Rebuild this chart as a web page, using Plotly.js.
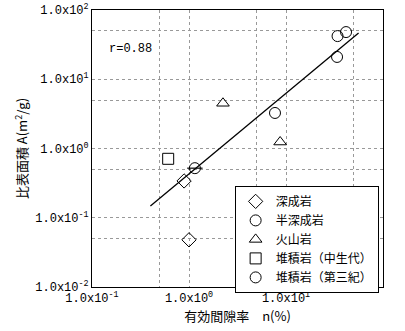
<!DOCTYPE html>
<html><head><meta charset="utf-8">
<script src="https://cdn.plot.ly/plotly-3.0.1.min.js"></script>
<style>html,body{margin:0;padding:0;background:#fff}#c{width:405px;height:331px}</style>
</head><body><div id="c"></div>
<script>
// 深成岩 (diamond)
const plutonicX = [0.89, 1.0];
const plutonicY = [0.34, 0.048];
// 半深成岩 (circle with bar)
const hypabyssalX = [1.15];
const hypabyssalY = [0.52];
// 火山岩 (triangle)
const volcanicX = [2.24, 8.7];
const volcanicY = [4.5, 1.24];
// 堆積岩（中生代） (square)
const mesozoicX = [0.61];
const mesozoicY = [0.71];
// 堆積岩（第三紀） (circle)
const tertiaryX = [7.7, 34, 41.6, 33.6];
const tertiaryY = [3.26, 42, 48, 21];
// regression line
const fitX = [0.4, 56];
const fitY = [0.148, 46.5];

const xTickVals = [0.1, 0.5, 1, 5, 10, 50, 100];
const xTickText = ['1.0x10<sup>-1</sup>', '', '1.0x10<sup>0</sup>', '', '1.0x10<sup>1</sup>', '', '1.0x10<sup>2</sup>'];
const yTickVals = [0.01, 0.05, 0.1, 0.5, 1, 5, 10, 50, 100];
const yTickText = ['1.0x10<sup>-2</sup>', '', '1.0x10<sup>-1</sup>', '', '1.0x10<sup>0</sup>', '', '1.0x10<sup>1</sup>', '', '1.0x10<sup>2</sup>'];

const names = ['深成岩', '半深成岩', '火山岩', '堆積岩（中生代）', '堆積岩（第三紀）'];

const mk = (sym) => ({symbol: sym, size: 11, color: '#000', line: {color: '#000', width: 1}});
const traces = [
  {x: fitX, y: fitY, mode: 'lines', line: {color: '#000', width: 1.3}, showlegend: false, hoverinfo: 'skip'},
  {x: plutonicX, y: plutonicY, mode: 'markers', name: names[0], marker: mk('diamond-open')},
  {x: hypabyssalX, y: hypabyssalY, mode: 'markers', name: names[1], marker: mk('circle-open')},
  {x: volcanicX, y: volcanicY, mode: 'markers', name: names[2], marker: mk('triangle-up-open')},
  {x: mesozoicX, y: mesozoicY, mode: 'markers', name: names[3], marker: mk('square-open')},
  {x: tertiaryX, y: tertiaryY, mode: 'markers', name: names[4], marker: mk('circle-open')},
  {x: hypabyssalX, y: hypabyssalY, mode: 'markers', showlegend: false, marker: {symbol: 'line-ew-open', size: 11, color: '#000', line: {color: '#000', width: 1.2}}}
];

const tickFont = {family: 'Liberation Mono, monospace', size: 12, color: '#000'};
const cjk = 'Noto Sans CJK JP, sans-serif';
const axisCommon = {
  type: 'log', tickmode: 'array', showline: true, linecolor: '#000', linewidth: 1, mirror: true,
  showgrid: true, gridcolor: '#999', griddash: 'dot', gridwidth: 1, zeroline: false,
  ticks: '', tickfont: tickFont
};

const layout = {
  width: 405, height: 331,
  margin: {l: 92, r: 22, t: 10, b: 44},
  paper_bgcolor: '#fff', plot_bgcolor: '#fff',
  showlegend: true,
  xaxis: Object.assign({}, axisCommon, {
    range: [-1, 2], tickvals: xTickVals, ticktext: xTickText,
    title: {text: '有効間隙率　n(%)', font: {family: cjk, size: 13, color: '#000'}, standoff: 6}
  }),
  yaxis: Object.assign({}, axisCommon, {
    range: [-2, 2], tickvals: yTickVals, ticktext: yTickText,
    title: {text: '比表面積 A(m<sup>2</sup>/g)', font: {family: cjk, size: 13, color: '#000'}, standoff: 4}
  }),
  legend: {
    x: 0.985, y: 0.365, xanchor: 'right', yanchor: 'top',
    bgcolor: '#fff', bordercolor: '#000', borderwidth: 1,
    font: {family: cjk, size: 12, color: '#000'},
    itemwidth: 30, tracegroupgap: 0
  },
  annotations: [{
    xref: 'paper', yref: 'paper', x: 0.052, y: 0.86, xanchor: 'left', yanchor: 'middle',
    text: 'r=0.88', showarrow: false, font: {family: 'Liberation Mono, monospace', size: 12, color: '#000'}
  }]
};

Plotly.newPlot('c', traces, layout, {staticPlot: true, displayModeBar: false});
</script></body></html>
